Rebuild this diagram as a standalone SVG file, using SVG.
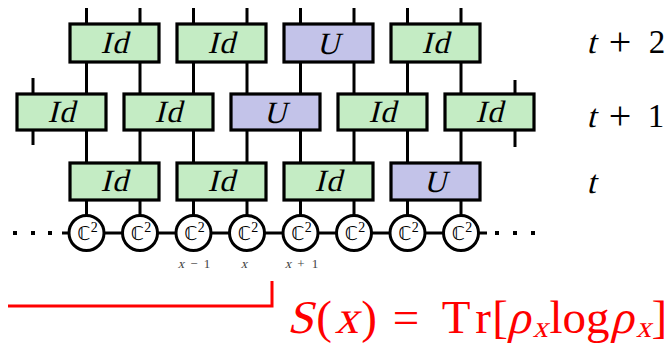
<svg xmlns="http://www.w3.org/2000/svg" width="671" height="345" viewBox="0 0 671 345">
<style>
.ln{stroke:#000;stroke-width:3;fill:none}
.id{fill:#c4ecc4;stroke:#000;stroke-width:3.2}
.u{fill:#c3c3e9;stroke:#000;stroke-width:3.2}
.bt{font-family:"Liberation Serif",serif;font-size:31px;text-anchor:middle;fill:#000;letter-spacing:1px}
.site{fill:#fff;stroke:#000;stroke-width:3}
.ct{font-family:"DejaVu Sans",sans-serif;font-size:19px;fill:#000;text-anchor:middle}
.sup{font-family:"Liberation Serif",serif;font-size:14px}
.xl{font-family:"Liberation Serif",serif;font-size:13px;fill:#444;text-anchor:middle}
.tl{font-family:"Liberation Serif",serif;font-size:33px;fill:#000;text-anchor:middle}
.pl{font-family:"Liberation Serif",serif;font-size:40px;fill:#000;text-anchor:middle}
.red{font-family:"Liberation Serif",serif;font-size:47px;fill:#f00;text-anchor:middle}
.rs{font-family:"Liberation Serif",serif;font-size:30px;fill:#f00;text-anchor:middle}
.dot{fill:#000}
</style>
<g id="connectors">
<path class="ln" d="M86.5 8V24M140 8V24M193.5 8V24M247 8V24M300.5 8V24M354 8V24M407.5 8V24M461 8V24"/>
<path class="ln" d="M86.5 62V94M140 62V94M193.5 62V94M247 62V94M300.5 62V94M354 62V94M407.5 62V94M461 62V94M33 78V94M515 80V94"/>
<path class="ln" d="M86.5 130V163M140 130V163M193.5 130V163M247 130V163M300.5 130V163M354 130V163M407.5 130V163M461 130V163M33 130V145M515 130V147"/>
<path class="ln" d="M86.5 200V215M140 200V215M193.5 200V215M247 200V215M300.5 200V215M354 200V215M407.5 200V215M461 200V215"/>
<path class="ln" d="M62 233H487"/>
<rect class="dot" x="13" y="231" width="4" height="4"/>
<rect class="dot" x="31" y="231" width="4" height="4"/>
<rect class="dot" x="48" y="231" width="4" height="4"/>
<rect class="dot" x="495" y="231" width="4" height="4"/>
<rect class="dot" x="513" y="231" width="4" height="4"/>
<rect class="dot" x="531" y="231" width="4" height="4"/>
</g>
<!-- row t+2 -->
<g id="r2b1"><rect class="id" x="70" y="24" width="89" height="38"/><text class="bt" transform="translate(114.5 53) skewX(-14)">Id</text></g>
<g id="r2b2"><rect class="id" x="177" y="24" width="89" height="38"/><text class="bt" transform="translate(221.5 53) skewX(-14)">Id</text></g>
<g id="r2b3"><rect class="u" x="284" y="24" width="89" height="38"/><text class="bt" transform="translate(328.5 54) skewX(-14)">U</text></g>
<g id="r2b4"><rect class="id" x="391" y="24" width="89" height="38"/><text class="bt" transform="translate(435.5 53) skewX(-14)">Id</text></g>
<!-- row t+1 -->
<g id="r1b1"><rect class="id" x="17" y="94" width="89" height="36"/><text class="bt" transform="translate(61.5 122) skewX(-14)">Id</text></g>
<g id="r1b2"><rect class="id" x="124" y="94" width="89" height="36"/><text class="bt" transform="translate(168.5 122) skewX(-14)">Id</text></g>
<g id="r1b3"><rect class="u" x="231" y="94" width="89" height="36"/><text class="bt" transform="translate(275.5 123) skewX(-14)">U</text></g>
<g id="r1b4"><rect class="id" x="338" y="94" width="89" height="36"/><text class="bt" transform="translate(382.5 122) skewX(-14)">Id</text></g>
<g id="r1b5"><rect class="id" x="445" y="94" width="89" height="36"/><text class="bt" transform="translate(489.5 122) skewX(-14)">Id</text></g>
<!-- row t -->
<g id="r0b1"><rect class="id" x="70" y="163" width="89" height="37"/><text class="bt" transform="translate(114.5 191) skewX(-14)">Id</text></g>
<g id="r0b2"><rect class="id" x="177" y="163" width="89" height="37"/><text class="bt" transform="translate(221.5 191) skewX(-14)">Id</text></g>
<g id="r0b3"><rect class="id" x="284" y="163" width="89" height="37"/><text class="bt" transform="translate(328.5 191) skewX(-14)">Id</text></g>
<g id="r0b4"><rect class="u" x="391" y="163" width="89" height="37"/><text class="bt" transform="translate(435.5 192) skewX(-14)">U</text></g>
<!-- sites -->
<g id="s1"><circle class="site" cx="86.5" cy="233" r="17.5"/><text class="ct" x="87.5" y="240">ℂ<tspan class="sup" dy="-8">2</tspan></text></g>
<g id="s2"><circle class="site" cx="140" cy="233" r="17.5"/><text class="ct" x="141" y="240">ℂ<tspan class="sup" dy="-8">2</tspan></text></g>
<g id="s3"><circle class="site" cx="193.5" cy="233" r="17.5"/><text class="ct" x="194.5" y="240">ℂ<tspan class="sup" dy="-8">2</tspan></text></g>
<g id="s4"><circle class="site" cx="247" cy="233" r="17.5"/><text class="ct" x="248" y="240">ℂ<tspan class="sup" dy="-8">2</tspan></text></g>
<g id="s5"><circle class="site" cx="300.5" cy="233" r="17.5"/><text class="ct" x="301.5" y="240">ℂ<tspan class="sup" dy="-8">2</tspan></text></g>
<g id="s6"><circle class="site" cx="354" cy="233" r="17.5"/><text class="ct" x="355" y="240">ℂ<tspan class="sup" dy="-8">2</tspan></text></g>
<g id="s7"><circle class="site" cx="407.5" cy="233" r="17.5"/><text class="ct" x="408.5" y="240">ℂ<tspan class="sup" dy="-8">2</tspan></text></g>
<g id="s8"><circle class="site" cx="461" cy="233" r="17.5"/><text class="ct" x="462" y="240">ℂ<tspan class="sup" dy="-8">2</tspan></text></g>
<!-- site labels -->
<g id="labels">
<text class="xl" transform="translate(181 268) skewX(-14)">x</text>
<text class="xl" x="194" y="268">−</text>
<text class="xl" x="207" y="268">1</text>
<text class="xl" transform="translate(244 268) skewX(-14)">x</text>
<text class="xl" transform="translate(288 268) skewX(-14)">x</text>
<text class="xl" x="301" y="268">+</text>
<text class="xl" x="315" y="268">1</text>
</g>
<!-- time labels -->
<g id="time">
<text class="tl" transform="translate(591 53) skewX(-14)">t</text>
<text class="pl" x="620" y="55">+</text>
<text class="tl" x="657" y="53">2</text>
<text class="tl" transform="translate(591 127) skewX(-14)">t</text>
<text class="pl" x="620" y="129">+</text>
<text class="tl" x="656" y="127">1</text>
<text class="tl" transform="translate(591 193) skewX(-14)">t</text>
</g>
<!-- entropy -->
<path d="M8 306H272V281" fill="none" stroke="#f00" stroke-width="3"/>
<g id="entropy">
<text class="red" transform="translate(300 333) skewX(-14)">S</text>
<text class="red" x="324" y="333">(</text>
<text class="red" transform="translate(346.5 333) skewX(-14)">x</text>
<text class="red" x="369" y="333">)</text>
<text class="red" x="406" y="333">=</text>
<text class="red" x="456" y="333">T</text>
<text class="red" x="483" y="333">r</text>
<text class="red" x="500" y="333">[</text>
<text class="red" transform="translate(518.6 333) skewX(-14)">ρ</text>
<text class="rs" transform="translate(540.2 337) skewX(-14)">x</text>
<text class="red" x="579.5" y="333">log</text>
<text class="red" transform="translate(621.8 333) skewX(-14)">ρ</text>
<text class="rs" transform="translate(643.4 337) skewX(-14)">x</text>
<text class="red" x="659.3" y="333">]</text>
</g>
</svg>
